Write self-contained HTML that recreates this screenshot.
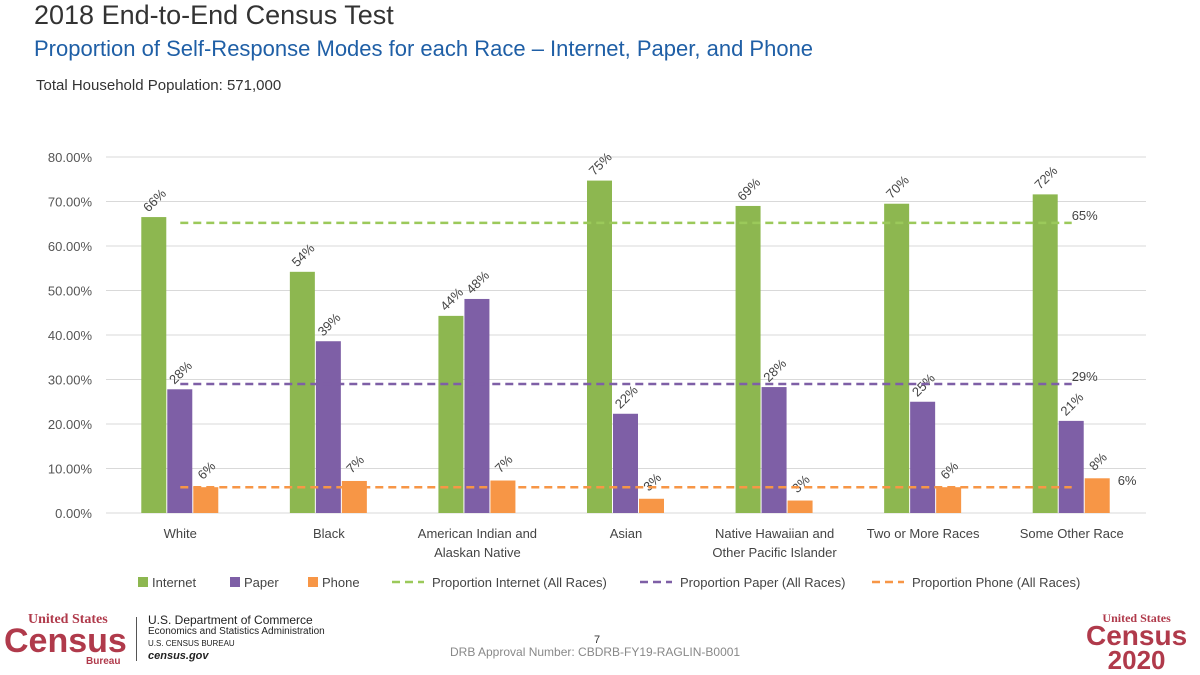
<!DOCTYPE html>
<html><head><meta charset="utf-8">
<style>
body{margin:0;width:1200px;height:675px;background:#fff;font-family:"Liberation Sans",sans-serif;position:relative;overflow:hidden}
.t{position:absolute;white-space:nowrap}
</style></head><body>
<div class="t" style="left:34px;top:0px;font-size:27px;color:#333">2018 End-to-End Census Test</div>
<div class="t" style="left:34px;top:36px;font-size:22px;color:#1f5fa6">Proportion of Self-Response Modes for each Race – Internet, Paper, and Phone</div>
<div class="t" style="left:36px;top:77px;font-size:15px;color:#333">Total Household Population: 571,000</div>
<svg id="chart" width="1200" height="600" style="position:absolute;left:0;top:0"></svg>
<div class="t" style="left:4px;top:612px;color:#b03a4b;font-weight:bold">
 <div style="font-size:14px;margin-left:24px;font-family:'Liberation Serif',serif">United States</div>
 <div style="font-size:34px;line-height:30px;margin-top:-2px">Census</div>
 <div style="font-size:10px;margin-left:82px">Bureau</div>
</div>
<div style="position:absolute;left:136px;top:617px;width:1px;height:44px;background:#555"></div>
<div class="t" style="left:148px;top:614px;color:#222;font-size:11px;line-height:12px">
 <div style="font-size:12px">U.S. Department of Commerce</div>
 <div style="font-size:10px">Economics and Statistics Administration</div>
 <div style="font-size:8px">U.S. CENSUS BUREAU</div>
 <div style="font-weight:bold;font-style:italic">census.gov</div>
</div>
<div class="t" style="left:594px;top:634px;font-size:11px;color:#333">7</div>
<div class="t" style="left:450px;top:645px;font-size:12px;color:#888">DRB Approval Number: CBDRB-FY19-RAGLIN-B0001</div>
<div class="t" style="left:1086px;top:612px;color:#b03a4b;font-weight:bold;text-align:center;line-height:24px">
 <div style="font-size:12px;line-height:12px;font-family:'Liberation Serif',serif">United States</div>
 <div style="font-size:28px">Census</div>
 <div style="font-size:26px">2020</div>
</div>
<script>
const categories=["White","Black","American Indian and|Alaskan Native","Asian","Native Hawaiian and|Other Pacific Islander","Two or More Races","Some Other Race"];
const internet=[66.5,54.2,44.3,74.7,69.0,69.5,71.6];
const paper=[27.8,38.6,48.1,22.3,28.3,25.0,20.7];
const phone=[5.8,7.2,7.3,3.2,2.8,5.8,7.8];
const internetLabels=["66%","54%","44%","75%","69%","70%","72%"];
const paperLabels=["28%","39%","48%","22%","28%","25%","21%"];
const phoneLabels=["6%","7%","7%","3%","3%","6%","8%"];
const avgValues=[65.2,29.0,5.8];
const avgLabels=["65%","29%","6%"];
const yTicks=[0,10,20,30,40,50,60,70,80];
const NS="http://www.w3.org/2000/svg",svg=document.getElementById("chart");
const L=106,R=1146,Y0=513,PX=44.5;
const y=v=>Y0-v*PX/10, cw=(R-L)/categories.length, cx=i=>L+cw*(i+0.5);
function mk(t,a,txt){const e=document.createElementNS(NS,t);for(const k in a)e.setAttribute(k,a[k]);if(txt!=null)e.textContent=txt;svg.appendChild(e);return e;}
yTicks.forEach(v=>{
 const g=mk("line",{x1:L,x2:R,y1:y(v),y2:y(v),stroke:"#d9d9d9"});
 
 
 const t=mk("text",{x:92,y:y(v)+5,"text-anchor":"end","font-size":13,fill:"#555"},v.toFixed(2)+"%");
 
 
});
const colors=["#8db750","#7e5fa6","#f79646"];
const series=[internet,paper,phone],labs=[internetLabels,paperLabels,phoneLabels],names=["internet","paper","phone"];
categories.forEach((c,i)=>{
 series.forEach((s,k)=>{
  const x=cx(i)-39+k*26;
  const b=mk("rect",{x:x,y:y(s[i]),width:25,height:Y0-y(s[i]),fill:colors[k]});
  
  
  const lx=x+14,ly=y(s[i])-16;
  const t=mk("text",{x:lx,y:ly,"font-size":13,fill:"#444","text-anchor":"middle","dominant-baseline":"middle",transform:`rotate(-45 ${lx} ${ly})`},labs[k][i]);
  
  
 });
 c.split("|").forEach((ln,j)=>{
  const t=mk("text",{x:cx(i),y:538+j*19,"text-anchor":"middle","font-size":13,fill:"#444"},ln);
  
  
 });
});
const avgCols=["#9bc95a","#7e5fa6","#f79646"],avgNames=["internet","paper","phone"];
avgValues.forEach((v,k)=>{
 const l=mk("line",{x1:cx(0),x2:cx(6),y1:y(v),y2:y(v),stroke:avgCols[k],"stroke-width":2.5,"stroke-dasharray":"8,5"});
 
 
 const t=mk("text",{x:cx(6)+(k==2?46:0),y:y(v)+(k==2?-2:-3),"font-size":13,fill:"#444"},avgLabels[k]);
 
 
});
const legend=[["Internet",0,138,"box"],["Paper",1,230,"box"],["Phone",2,308,"box"],["Proportion Internet (All Races)",0,392,"dash"],["Proportion Paper (All Races)",1,640,"dash"],["Proportion Phone (All Races)",2,872,"dash"]];
legend.forEach(([n,k,x,tp])=>{
 let m;
 if(tp=="box")m=mk("rect",{x:x,y:577,width:10,height:10,fill:colors[k]});
 else m=mk("line",{x1:x,x2:x+32,y1:582,y2:582,stroke:avgCols[k],"stroke-width":2.5,"stroke-dasharray":"8,5"});
 
 
 const t=mk("text",{x:x+(tp=="box"?14:40),y:587,"font-size":13,fill:"#444"},n);
 
 
});
</script>
</body></html>
